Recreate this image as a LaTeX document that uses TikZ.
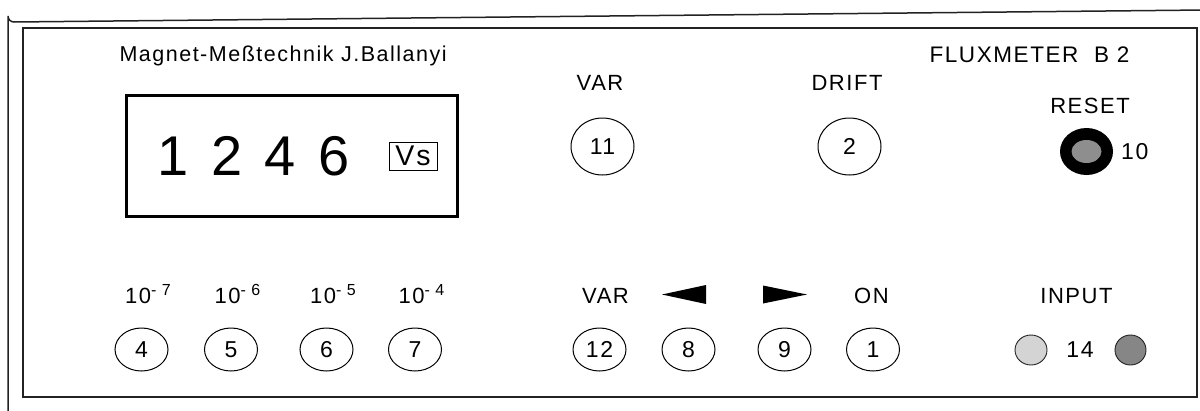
\documentclass[tikz,border=0pt]{standalone}
\usepackage{fontspec}
\setmainfont{Liberation Sans}[LetterSpace=7]
\usetikzlibrary{shapes.geometric}
\definecolor{frame}{HTML}{222222}
\definecolor{knobgray}{HTML}{8E8E8E}
\definecolor{jacklight}{HTML}{D4D4D4}
\definecolor{jackdark}{HTML}{868686}
\newcommand{\decade}[1]{10\raisebox{8pt}{\fontsize{16}{16}\selectfont - #1}}
\begin{document}
\begin{tikzpicture}[x=1pt,y=-1pt,
  lbl/.style={anchor=base,font=\fontsize{22}{25}\selectfont},
  btn/.style={draw,line width=1pt,ellipse,inner sep=0pt,minimum width=53pt,minimum height=43pt,font=\fontsize{23}{27}\selectfont},
  bigbtn/.style={btn,minimum width=63pt,minimum height=57pt},
  jack/.style={draw=frame,line width=0.9pt,ellipse,inner sep=0pt,minimum width=31pt,minimum height=30pt}]
\useasboundingbox (0,0) rectangle (1200,410);
\pgfmathsetmacro{\rowA}{146.5}
\pgfmathsetmacro{\rowB}{349.5}
%frames
\draw[frame,line width=1.5pt](8,415)--(8,16) arc (180:90:6)--(1205,10);
\draw[frame,line width=1.5pt](23,28) rectangle (1197,397);
\node[anchor=base west,font=\fontsize{21.5}{25}\selectfont] (maker) at (116,61) {Magnet-Meßtechnik J.Ballanyi};
\node[anchor=base west,font=\fontsize{22.5}{25}\selectfont] (model) at (926,62) {FLUXMETER\ \ B 2};
%display
\draw[line width=3pt](126.5,95.5) rectangle (457.5,216.5);
\node[anchor=base west,font=\fontsize{56}{60}\selectfont\addfontfeature{LetterSpace=12.5}] (value) at (154,175) {1 2 4 6};
\node[draw,line width=0.8pt,inner sep=0pt,minimum width=48pt,minimum height=28pt,font=\fontsize{28.5}{30}\selectfont] (unit) at (413,156) {Vs};
%upper buttons
\node[lbl] (var1) at (600,90) {VAR};
\node[lbl] (drift) at (847,90) {DRIFT};
\node[bigbtn] (b11) at (602.5,\rowA) {11};
\node[bigbtn] (b2) at (849.5,\rowA) {2};
%reset
\node[lbl] (reset) at (1090,113) {RESET};
\node[ellipse,fill=black,inner sep=0pt,minimum width=53pt,minimum height=47pt] (b10) at (1086.5,151.5) {};
\node[ellipse,fill=knobgray,inner sep=0pt,minimum width=30pt,minimum height=23pt] (b10in) at (b10) {};
\node[anchor=west,font=\fontsize{23}{27}\selectfont,inner sep=0pt] (n10) at (1121,152) {10};
%range buttons
\foreach \n/\x/\e in {4/141.5/7,5/231/6,6/326.5/5,7/415/4}{
  \node[btn] (b\n) at (\x,\rowB) {\n};
  \node[lbl] (r\n) at (\x+6.5,303) {\decade{\e}};
}
%lower buttons
\foreach \n/\x in {12/599.5,8/688.5,9/784.5,1/873}
  \node[btn] (b\n) at (\x,\rowB) {\n};
\node[lbl] (var2) at (605.5,303) {VAR};
\node[lbl] (on) at (871.5,303) {ON};
\fill (662,294.5)--(706,285)--(706,304)--cycle;
\fill (763,285.5)--(807,294.5)--(763,303.5)--cycle;
%input
\node[lbl] (input) at (1076.5,303) {INPUT};
\node[jack,fill=jacklight,minimum width=32pt] (inlo) at (1031,350) {};
\node[jack,fill=jackdark] (inhi) at (1130.5,350) {};
\node[font=\fontsize{23}{27}\selectfont,inner sep=0pt] (n14) at (1080,350) {14};
\end{tikzpicture}
\end{document}
